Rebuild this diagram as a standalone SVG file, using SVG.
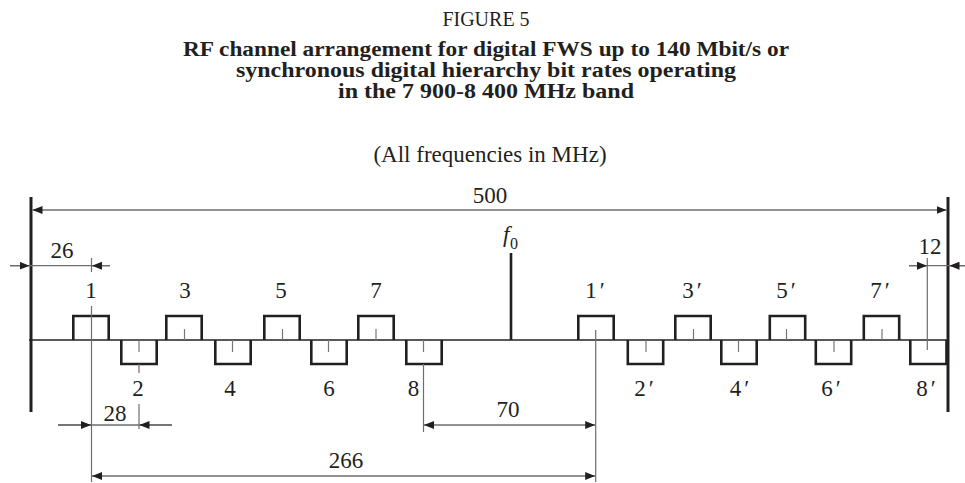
<svg xmlns="http://www.w3.org/2000/svg" width="965" height="483" viewBox="0 0 965 483">
<defs>
<style>
text{font-family:"Liberation Serif","Times New Roman",serif;fill:#231f20}
.t{font-size:23px;text-anchor:middle}
.fig{font-size:20px;text-anchor:middle}
.b{font-size:20px;font-weight:bold;text-anchor:middle}
.lbl{font-size:23px;text-anchor:middle}
.box{fill:none;stroke:#231f20;stroke-width:2.6;stroke-linejoin:miter}
.tick{stroke:#777;stroke-width:1.2}
.dim{stroke:#6d6d6d;stroke-width:1.3;fill:none}
.ext{stroke:#6d6d6d;stroke-width:1.2}
.bound{stroke:#231f20;stroke-width:3}
.axis{stroke:#231f20;stroke-width:1.4}
.arr{marker-end:url(#ah)}
.arr2{marker-start:url(#ah);marker-end:url(#ah)}
</style>
<marker id="ah" viewBox="0 0 10 8" refX="10" refY="4" markerWidth="10" markerHeight="8" markerUnits="userSpaceOnUse" orient="auto-start-reverse">
<path d="M0,0 L10,4 L0,8 z" fill="#231f20"/>
</marker>
</defs>

<g id="title">
<text class="fig" x="486" y="26">FIGURE 5</text>
<text class="b" x="486" y="56" textLength="606" lengthAdjust="spacingAndGlyphs">RF channel arrangement for digital FWS up to 140 Mbit/s or</text>
<text class="b" x="486" y="77" textLength="500" lengthAdjust="spacingAndGlyphs">synchronous digital hierarchy bit rates operating</text>
<text class="b" x="486" y="98" textLength="296" lengthAdjust="spacingAndGlyphs">in the 7 900-8 400 MHz band</text>
<text class="t" x="490" y="162">(All frequencies in MHz)</text>
</g>

<g id="frame">
<line class="bound" x1="31" y1="197" x2="31" y2="412"/>
<line class="bound" x1="948" y1="197" x2="948" y2="412"/>
<line class="axis" x1="29" y1="340" x2="948" y2="340"/>
</g>

<g id="f0">
<line stroke="#231f20" stroke-width="2.6" x1="511" y1="253" x2="511" y2="340"/>
<text x="503" y="242" font-size="23" font-style="italic">f</text>
<text x="510" y="249" font-size="16">0</text>
</g>

<g id="ch1"><path class="box" d="M73.3,340 V316 H108.7 V340"/><text class="lbl" x="91" y="298">1</text></g>
<g id="ch2"><path class="box" d="M121.3,340 V364 H156.7 V340"/><line class="tick" x1="139" y1="340" x2="139" y2="352"/><text class="lbl" x="138" y="396">2</text></g>
<g id="ch3"><path class="box" d="M166.3,340 V316 H201.7 V340"/><line class="tick" x1="184.5" y1="329" x2="184.5" y2="340"/><text class="lbl" x="185" y="298">3</text></g>
<g id="ch4"><path class="box" d="M215.3,340 V364 H250.7 V340"/><line class="tick" x1="232.5" y1="340" x2="232.5" y2="352"/><text class="lbl" x="230" y="396">4</text></g>
<g id="ch5"><path class="box" d="M264.3,340 V316 H299.7 V340"/><line class="tick" x1="282.5" y1="329" x2="282.5" y2="340"/><text class="lbl" x="281" y="298">5</text></g>
<g id="ch6"><path class="box" d="M311.3,340 V364 H346.7 V340"/><line class="tick" x1="328.5" y1="340" x2="328.5" y2="352"/><text class="lbl" x="329" y="396">6</text></g>
<g id="ch7"><path class="box" d="M358.3,340 V316 H393.7 V340"/><line class="tick" x1="376" y1="329" x2="376" y2="340"/><text class="lbl" x="376" y="298">7</text></g>
<g id="ch8"><path class="box" d="M406.3,340 V364 H441.7 V340"/><line class="tick" x1="423.5" y1="340" x2="423.5" y2="352"/><text class="lbl" x="413.5" y="396">8</text></g>

<g id="ch1p"><path class="box" d="M578.3,340 V316 H613.7 V340"/><text class="lbl" x="595" y="298">1<tspan dx="3">′</tspan></text></g>
<g id="ch2p"><path class="box" d="M627.8,340 V364 H663.2 V340"/><line class="tick" x1="646" y1="340" x2="646" y2="352"/><text class="lbl" x="644" y="396">2<tspan dx="3">′</tspan></text></g>
<g id="ch3p"><path class="box" d="M675.3,340 V316 H710.7 V340"/><line class="tick" x1="693.5" y1="329" x2="693.5" y2="340"/><text class="lbl" x="692" y="298">3<tspan dx="3">′</tspan></text></g>
<g id="ch4p"><path class="box" d="M721.3,340 V364 H756.7 V340"/><line class="tick" x1="738.5" y1="340" x2="738.5" y2="352"/><text class="lbl" x="739.5" y="396">4<tspan dx="3">′</tspan></text></g>
<g id="ch5p"><path class="box" d="M769.8,340 V316 H805.2 V340"/><line class="tick" x1="786.5" y1="329" x2="786.5" y2="340"/><text class="lbl" x="786" y="298">5<tspan dx="3">′</tspan></text></g>
<g id="ch6p"><path class="box" d="M815.8,340 V364 H851.2 V340"/><line class="tick" x1="834" y1="340" x2="834" y2="352"/><text class="lbl" x="831" y="396">6<tspan dx="3">′</tspan></text></g>
<g id="ch7p"><path class="box" d="M863.8,340 V316 H899.2 V340"/><line class="tick" x1="882" y1="329" x2="882" y2="340"/><text class="lbl" x="880" y="298">7<tspan dx="3">′</tspan></text></g>
<g id="ch8p"><path class="box" d="M910.3,340 V364 H946.5 V340"/><text class="lbl" x="926" y="396">8<tspan dx="3">′</tspan></text></g>

<g id="connectors">
<line class="ext" x1="91.5" y1="258" x2="91.5" y2="272"/>
<line class="ext" x1="91.5" y1="306" x2="91.5" y2="482"/>
<line class="ext" x1="139" y1="364" x2="139" y2="373"/>
<line class="ext" x1="139" y1="404" x2="139" y2="429"/>
<line class="ext" x1="423.5" y1="364" x2="423.5" y2="432"/>
<line class="ext" x1="595.7" y1="330" x2="595.7" y2="482"/>
<line class="ext" x1="927.3" y1="258" x2="927.3" y2="350"/>
<line class="dim arr2" x1="32.5" y1="210" x2="946.5" y2="210"/>
<text class="lbl" x="490" y="203">500</text>
<line class="dim" x1="10" y1="265.7" x2="110" y2="265.7"/>
<path class="dim arr" d="M10,265.7 H29.5"/>
<path class="dim arr" d="M110,265.7 H92"/>
<text class="lbl" x="62" y="258">26</text>
<line class="dim" x1="909" y1="265.7" x2="965" y2="265.7"/>
<path class="dim arr" d="M909,265.7 H927"/>
<path class="dim arr" d="M965,265.7 H949.5"/>
<text class="lbl" x="930" y="254">12</text>
<line class="dim" x1="58" y1="425" x2="172" y2="425"/>
<path class="dim arr" d="M58,425 H91"/>
<path class="dim arr" d="M172,425 H139.5"/>
<text class="lbl" x="115" y="421">28</text>
<line class="dim arr2" x1="424" y1="425" x2="595.2" y2="425"/>
<text class="lbl" x="508" y="417">70</text>
<line class="dim arr2" x1="92" y1="476" x2="595.2" y2="476"/>
<text class="lbl" x="346" y="468">266</text>
</g>
</svg>
